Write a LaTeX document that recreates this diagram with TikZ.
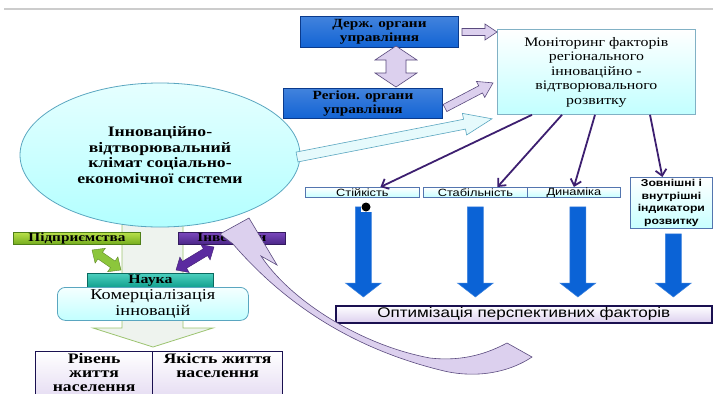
\documentclass[tikz,border=0pt]{standalone}
\usepackage{fontspec}
\setmainfont{Liberation Serif}[FakeStretch=1.22]
\setsansfont{Liberation Sans}[FakeStretch=1.22]
\usetikzlibrary{calc,arrows.meta,shapes.geometric}

\definecolor{bluefill}{HTML}{1263D4}
\definecolor{bluedraw}{HTML}{0A3A8C}
\definecolor{lavfill}{HTML}{DCD0EE}
\definecolor{lavdraw}{HTML}{5A4A7E}
\definecolor{cyanfill}{HTML}{E6FAFC}
\definecolor{cyandraw}{HTML}{5AA6C0}
\definecolor{purline}{HTML}{3D1F70}
\definecolor{bigblue}{HTML}{0B63D6}
\definecolor{navy}{HTML}{1A1050}
\definecolor{greentop}{HTML}{B8E04A}
\definecolor{greenbot}{HTML}{74AC1E}
\definecolor{greendraw}{HTML}{4F7F18}
\definecolor{purtop}{HTML}{7A48BC}
\definecolor{purbot}{HTML}{4A2688}
\definecolor{tealtop}{HTML}{4CCFBE}
\definecolor{tealbot}{HTML}{10A08E}
\definecolor{tealdraw}{HTML}{0A6A60}
\definecolor{palefill}{HTML}{EEF3EE}
\definecolor{paledraw}{HTML}{9CC470}
\definecolor{gdbl}{HTML}{8CC63C}
\definecolor{pdbl}{HTML}{5B2AA0}

\newcommand\blockarr[6][]{%
 \draw[#1] let \p1=(#2), \p2=(#3), \n1={atan2(\y2-\y1,\x2-\x1)}, \n2={veclen(\x2-\x1,\y2-\y1)} in
 ($(\p1)+(\n1+90:#4pt)$) -- ($(\p1)+(\n1:\n2-#6pt)+(\n1+90:#4pt)$) -- ($(\p1)+(\n1:\n2-#6pt)+(\n1+90:#5pt)$) -- (\p2) -- ($(\p1)+(\n1:\n2-#6pt)+(\n1-90:#5pt)$) -- ($(\p1)+(\n1:\n2-#6pt)+(\n1-90:#4pt)$) -- ($(\p1)+(\n1-90:#4pt)$) -- cycle;}

\newcommand\dblarr[6][]{%
 \draw[#1] let \p1=(#2), \p2=(#3), \n1={atan2(\y2-\y1,\x2-\x1)}, \n2={veclen(\x2-\x1,\y2-\y1)} in
 ($(\p1)+(\n1:#6pt)+(\n1+90:#4pt)$) -- ($(\p1)+(\n1:\n2-#6pt)+(\n1+90:#4pt)$) -- ($(\p1)+(\n1:\n2-#6pt)+(\n1+90:#5pt)$) -- (\p2) -- ($(\p1)+(\n1:\n2-#6pt)+(\n1-90:#5pt)$) -- ($(\p1)+(\n1:\n2-#6pt)+(\n1-90:#4pt)$) -- ($(\p1)+(\n1:#6pt)+(\n1-90:#4pt)$) -- ($(\p1)+(\n1:#6pt)+(\n1-90:#5pt)$) -- (\p1) -- ($(\p1)+(\n1:#6pt)+(\n1+90:#5pt)$) -- cycle;}

\tikzset{
 box/.style={anchor=north west, inner sep=0pt, align=center},
 bluebox/.style={box, top color=bluefill!80!white, bottom color=bluefill, draw=bluedraw, line width=1pt,
   font=\bfseries\fontsize{12.5}{13.5}\selectfont},
 lav/.style={fill=lavfill, draw=lavdraw, line width=0.6pt},
 cyanarr/.style={fill=cyanfill, draw=cyandraw, line width=0.6pt},
 purarr/.style={draw=purline, line width=1.8pt, -{Straight Barb[length=6pt,width=11pt]}},
 smallbox/.style={box, top color=white, bottom color=cyan!22, draw=bluedraw!70, line width=0.8pt,
   font=\sffamily\fontsize{10.5}{12}\selectfont},
 bigarr/.style={fill=bigblue, draw=bigblue!80!white, line width=0.5pt},
 bar/.style={box, line width=0.8pt, font=\bfseries\fontsize{12.5}{12}\selectfont},
 lifebox/.style={box, top color=white, bottom color=lavfill!80, draw=navy, line width=1.2pt},
 lifetext/.style={font=\bfseries\fontsize{14.5}{14}\selectfont, align=center, anchor=north, inner sep=0pt},
}

\begin{document}
\begin{tikzpicture}[x=1pt,y=-1pt]
\useasboundingbox (0,0) rectangle (713,394);
\fill[white] (0,0) rectangle (713,394);
\draw[line width=2.5pt, black!20] (4,9) -- (713,9);

% pale background arrow
\filldraw[fill=palefill, draw=paledraw, line width=0.8pt]
  (122,210) -- (122,328) -- (93,328) -- (153,347) -- (213,328) -- (183,328) -- (183,210) -- cycle;

% government boxes
\node[bluebox, minimum width=158pt, minimum height=31pt] (derzh) at (300,16) {Держ. органи\\управління};
\node[bluebox, minimum width=159pt, minimum height=30pt] (region) at (283,88) {Регіон. органи\\управління};

% monitoring box
\node[box, minimum width=198pt, minimum height=85pt, top color=white, bottom color=cyan!24,
  draw=black!40!cyan!60, line width=0.8pt, font=\fontsize{13}{14.5}\selectfont] (monitor) at (497,29)
  {Моніторинг факторів\\регіонального\\інноваційно -\\відтворювального\\розвитку};

% climate ellipse
\node[ellipse, minimum width=280pt, minimum height=144pt, inner sep=0pt, top color=cyan!10, bottom color=cyan!30,
  draw=cyandraw, line width=0.8pt, align=center, font=\bfseries\fontsize{14.5}{15.5}\selectfont] (clim) at (160,155)
  {Інноваційно-\\відтворювальний\\клімат соціально-\\економічної системи};

% block arrows to monitor
\dblarr[lav]{396,46}{396,87}{10}{21}{14}
\blockarr[lav]{$(derzh.east)+(3,0)$}{monitor.west |- derzh.east}{3.5}{8}{12}
\blockarr[lav]{445,108}{$(monitor.west)+(-4,11)$}{4}{9}{14}
\blockarr[cyanarr]{297,157}{$(monitor.south west)+(-5,4)$}{5}{11}{28}

% factor boxes
\node[smallbox, minimum width=114pt, minimum height=10pt] (stiyk) at (305,187) {Стійкість};
\node[smallbox, minimum width=104pt, minimum height=10pt] (stab) at (423,187) {Стабільність};
\node[smallbox, minimum width=93pt, minimum height=10pt] (dyn) at (527,187) {Динаміка};
\node[smallbox, minimum width=82pt, minimum height=51pt, font=\sffamily\bfseries\fontsize{10}{12.7}\selectfont]
  (zovn) at (630,177) {Зовнішні і\\внутрішні\\індикатори\\розвитку};

% purple connectors
\draw[purarr] ($(monitor.south west)+(35,0)$) -- ($(stiyk.north)+(18,0)$);
\draw[purarr] ($(monitor.south west)+(65,0)$) -- ($(stab.north)+(22,0)$);
\draw[purarr] ($(monitor.south west)+(98,0)$) -- (dyn.north);
\draw[purarr] ($(monitor.south west)+(153,0)$) -- ($(zovn.north)+(-9,0)$);

% optimisation bar
\node[box, minimum width=376pt, minimum height=17pt, top color=white, bottom color=lavfill,
  draw=navy, line width=1.5pt, font=\sffamily\fontsize{14}{15}\selectfont] (optim) at (335,305)
  {Оптимізація перспективних факторів};

% big blue arrows
\blockarr[bigarr]{$(stiyk.south)+(1,9)$}{$(stiyk.south |- optim.north)+(1,-8)$}{8}{18}{14}
\blockarr[bigarr]{$(stab.south)+(0,9)$}{$(stab.south |- optim.north)+(0,-8)$}{8}{18}{14}
\blockarr[bigarr]{$(dyn.south)+(4,9)$}{$(dyn.south |- optim.north)+(4,-8)$}{8}{18}{14}
\blockarr[bigarr]{$(zovn.south)+(2,5)$}{$(zovn.south |- optim.north)+(2,-8)$}{8}{18}{14}
\fill[white] (361,201) rectangle (372,212);
\fill[black] (366,207) circle (4.5pt);

% lower left blocks
\node[bar, minimum width=127pt, minimum height=12pt, top color=greentop, bottom color=greenbot, draw=greendraw]
  (pidpr) at (13,232) {Підприємства};
\node[bar, minimum width=107pt, minimum height=12pt, top color=purtop, bottom color=purbot, draw=purbot!70!black]
  (invest) at (178,232) {Інвестори};
\node[bar, minimum width=126pt, minimum height=14pt, top color=tealtop, bottom color=tealbot, draw=tealdraw,
  font=\bfseries\fontsize{13}{13}\selectfont] (nauka) at (87,273) {Наука};
\node[box, minimum width=191pt, minimum height=33pt, rounded corners=8pt, top color=cyan!4, bottom color=cyan!24,
  draw=cyandraw, line width=0.8pt, font=\fontsize{15}{16}\selectfont] (komerc) at (57,287)
  {Комерціалізація\\інновацій};
\dblarr[fill=gdbl, draw=gdbl!70!black, line width=0.4pt]{92,250}{121,270}{4}{9}{10}
\dblarr[fill=pdbl, draw=pdbl!70!black, line width=0.4pt]{176,270}{214,247}{4}{9}{10}

\node[lifebox, minimum width=117pt, minimum height=50pt] (riven) at (35,351) {};
\node[lifebox, minimum width=130pt, minimum height=50pt] (yakist) at (152,351) {};
\node[lifetext] (rivent) at ($(riven.north)+(0,2)$) {Рівень\\життя\\населення};
\node[lifetext] (yakistt) at ($(yakist.north)+(0,2)$) {Якість життя\\населення};

% curved feedback arrow
\filldraw[fill=lavfill, draw=lavdraw, line width=0.6pt]
  (220,234) -- (249,218) -- (277,265) -- (261,256)
  .. controls (290,300) and (360,345) .. (430,358)
  .. controls (465,362) and (490,352) .. (507,343)
  -- (532,357)
  .. controls (505,375) and (470,378) .. (440,370)
  .. controls (360,350) and (290,310) .. (233,244) -- cycle;
\end{tikzpicture}
\end{document}
